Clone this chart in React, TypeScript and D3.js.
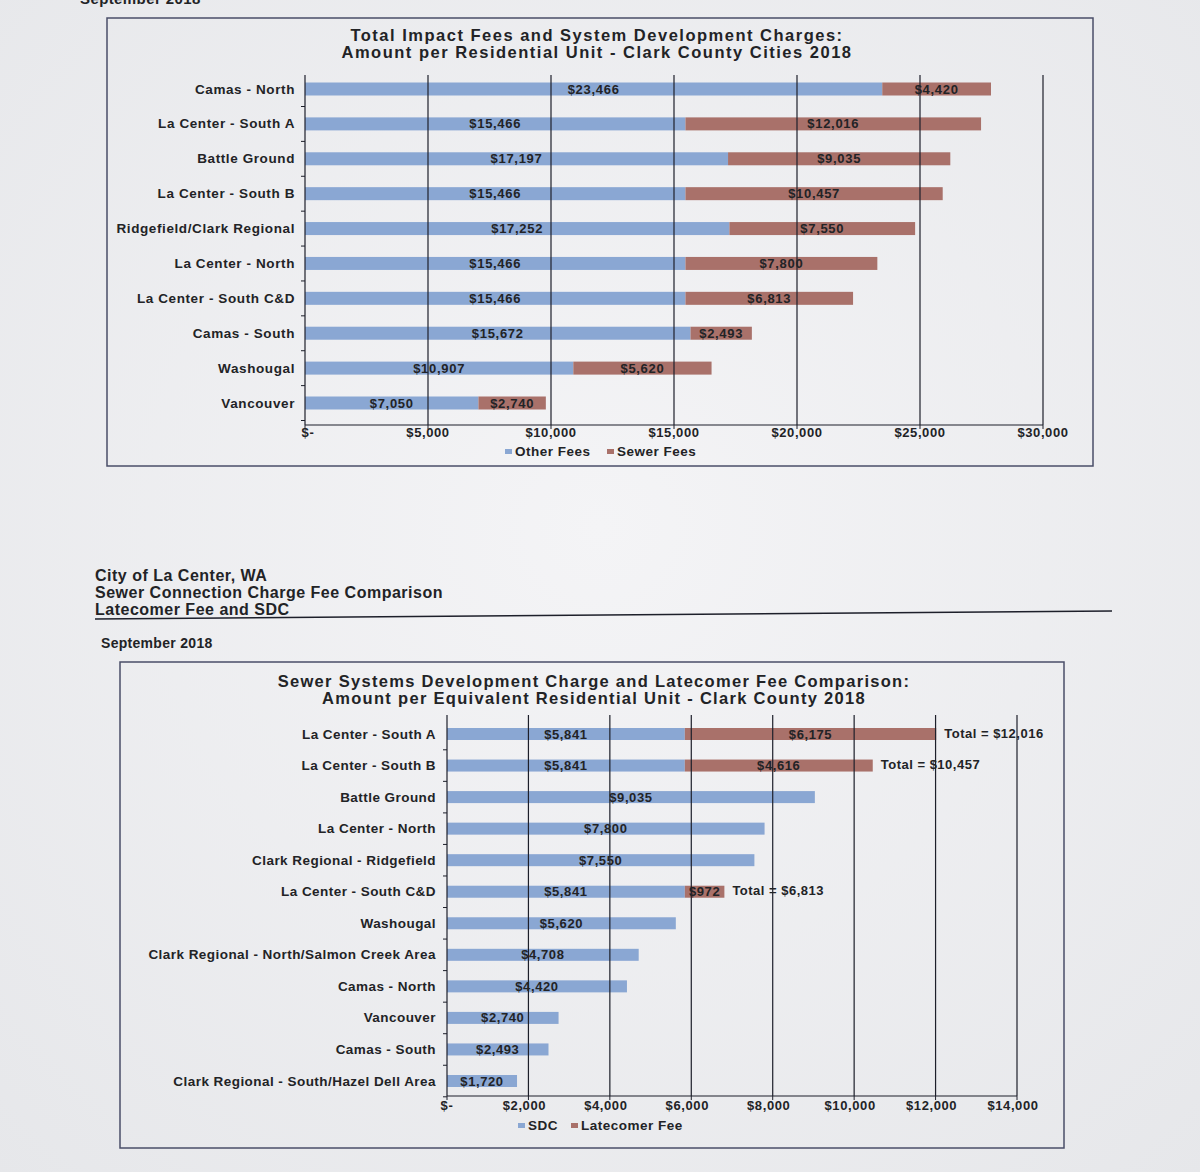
import React from "react";
import * as d3 from "d3";

document.body.style.margin = "0";

const topCategories = [
  "Camas - North",
  "La Center - South A",
  "Battle Ground",
  "La Center - South B",
  "Ridgefield/Clark Regional",
  "La Center - North",
  "La Center - South C&D",
  "Camas - South",
  "Washougal",
  "Vancouver",
];
const otherFees = [23466, 15466, 17197, 15466, 17252, 15466, 15466, 15672, 10907, 7050];
const sewerFees = [4420, 12016, 9035, 10457, 7550, 7800, 6813, 2493, 5620, 2740];
const topTicks = [0, 5000, 10000, 15000, 20000, 25000, 30000];

const bottomCategories = [
  "La Center - South A",
  "La Center - South B",
  "Battle Ground",
  "La Center - North",
  "Clark Regional - Ridgefield",
  "La Center - South C&D",
  "Washougal",
  "Clark Regional - North/Salmon Creek Area",
  "Camas - North",
  "Vancouver",
  "Camas - South",
  "Clark Regional - South/Hazel Dell Area",
];
const sdcFees = [5841, 5841, 9035, 7800, 7550, 5841, 5620, 4708, 4420, 2740, 2493, 1720];
const latecomerFees = [6175, 4616, 0, 0, 0, 972, 0, 0, 0, 0, 0, 0];
const bottomTicks = [0, 2000, 4000, 6000, 8000, 10000, 12000, 14000];

const BLUE = "#8aa7d3";
const RED = "#a9716a";
const INK = "#222326";
const LINE = "#1d1f2a";
const FONT = "'Liberation Sans', Arial, sans-serif";

const money = (v: number) => (v === 0 ? "$-" : "$" + d3.format(",")(v));

export default function App() {
  const xTop = d3.scaleLinear().domain([0, 30000]).range([305, 1043]);
  const yTop = d3.scalePoint<string>().domain(topCategories).range([89, 403]);
  const barHTop = 13;

  const xBot = d3.scaleLinear().domain([0, 14000]).range([447, 1017]);
  const yBot = d3.scalePoint<string>().domain(bottomCategories).range([734, 1081]);
  const barHBot = 12;

  return (
    <svg width={1200} height={1172} style={{ display: "block", fontFamily: FONT }}>
      <defs>
        <radialGradient id="bg" cx="50%" cy="45%" r="75%">
          <stop offset="0%" stopColor="#f4f4f6" />
          <stop offset="100%" stopColor="#e6e7ea" />
        </radialGradient>
      </defs>
      <rect x={0} y={0} width={1200} height={1172} fill="url(#bg)" />

      <text x={80} y={4} fontSize={15} fontWeight="bold" fill={INK} letterSpacing={0.4}>September 2018</text>

      {/* ===== TOP CHART ===== */}
      <rect x={107} y={18} width={986} height={448} fill="none" stroke="#4a4e68" strokeWidth={1.5} />
      <g fontSize={16.5} fontWeight="bold" fill={INK} textAnchor="middle" letterSpacing={1.5}>
        <text x={597} y={41}>Total Impact Fees and System Development Charges:</text>
        <text x={597} y={58}>Amount per Residential Unit - Clark County Cities 2018</text>
      </g>

      {topCategories.map((c, i) => {
        const y = (yTop(c) as number) - barHTop / 2;
        return (
          <g key={c}>
            <rect x={xTop(0)} y={y} width={xTop(otherFees[i]) - xTop(0)} height={barHTop} fill={BLUE} />
            <rect
              x={xTop(otherFees[i])}
              y={y}
              width={xTop(otherFees[i] + sewerFees[i]) - xTop(otherFees[i])}
              height={barHTop}
              fill={RED}
            />
          </g>
        );
      })}

      {topTicks.map((t) => (
        <line key={t} x1={xTop(t)} x2={xTop(t)} y1={75} y2={425} stroke={LINE} strokeWidth={1.2} />
      ))}
      <line x1={xTop(0)} x2={xTop(30000)} y1={425} y2={425} stroke={LINE} strokeWidth={1.2} />
      {topCategories.map((c) => (
        <line key={"tk" + c} x1={xTop(0) - 4} x2={xTop(0)} y1={(yTop(c) as number) + 17.5} y2={(yTop(c) as number) + 17.5} stroke={LINE} />
      ))}
      {topTicks.map((t) => (
        <line key={"xt" + t} x1={xTop(t)} x2={xTop(t)} y1={425} y2={429} stroke={LINE} />
      ))}

      {topCategories.map((c, i) => {
        const yc = (yTop(c) as number) + 4.5;
        return (
          <g key={"l" + c} fontSize={13} fontWeight="bold" fill={INK} textAnchor="middle" letterSpacing={0.7}>
            <text x={(xTop(0) + xTop(otherFees[i])) / 2} y={yc}>{money(otherFees[i])}</text>
            <text x={(xTop(otherFees[i]) + xTop(otherFees[i] + sewerFees[i])) / 2} y={yc}>{money(sewerFees[i])}</text>
          </g>
        );
      })}

      {topCategories.map((c) => (
        <text key={"c" + c} x={295} y={(yTop(c) as number) + 4.5} textAnchor="end" fontSize={13.5} fontWeight="bold" fill={INK} letterSpacing={0.6}>
          {c}
        </text>
      ))}

      {topTicks.map((t) => (
        <text key={"tl" + t} x={xTop(t) + (t === 0 ? 3 : 0)} y={437} textAnchor="middle" fontSize={13} fontWeight="bold" fill={INK} letterSpacing={0.6}>
          {money(t)}
        </text>
      ))}

      <g fontSize={13.5} fontWeight="bold" fill={INK} letterSpacing={0.5}>
        <rect x={505} y={449} width={7} height={5} fill={BLUE} />
        <text x={515} y={456}>Other Fees</text>
        <rect x={607} y={449} width={7} height={5} fill={RED} />
        <text x={617} y={456}>Sewer Fees</text>
      </g>

      {/* ===== BOTTOM HEADER ===== */}
      <g fontSize={16} fontWeight="bold" fill={INK} letterSpacing={0.5}>
        <text x={95} y={581}>City of La Center, WA</text>
        <text x={95} y={598}>Sewer Connection Charge Fee Comparison</text>
        <text x={95} y={615}>Latecomer Fee and SDC</text>
      </g>
      <line x1={95} x2={1112} y1={619} y2={611} stroke={LINE} strokeWidth={1.6} />
      <text x={101} y={648} fontSize={14} fontWeight="bold" fill={INK} letterSpacing={0.3}>September 2018</text>

      {/* ===== BOTTOM CHART ===== */}
      <rect x={120} y={662} width={944} height={486} fill="none" stroke="#4a4e68" strokeWidth={1.5} />
      <g fontSize={16.5} fontWeight="bold" fill={INK} textAnchor="middle" letterSpacing={1.3}>
        <text x={594} y={687}>Sewer Systems Development Charge and Latecomer Fee Comparison:</text>
        <text x={594} y={704}>Amount per Equivalent Residential Unit - Clark County 2018</text>
      </g>

      {bottomCategories.map((c, i) => {
        const y = (yBot(c) as number) - barHBot / 2;
        return (
          <g key={"b" + c}>
            <rect x={xBot(0)} y={y} width={xBot(sdcFees[i]) - xBot(0)} height={barHBot} fill={BLUE} />
            {latecomerFees[i] > 0 && (
              <rect
                x={xBot(sdcFees[i])}
                y={y}
                width={xBot(sdcFees[i] + latecomerFees[i]) - xBot(sdcFees[i])}
                height={barHBot}
                fill={RED}
              />
            )}
          </g>
        );
      })}

      {bottomTicks.map((t) => (
        <line key={"bg" + t} x1={xBot(t)} x2={xBot(t)} y1={715} y2={1096} stroke={LINE} strokeWidth={1.2} />
      ))}
      <line x1={xBot(0)} x2={xBot(14000)} y1={1096} y2={1096} stroke={LINE} strokeWidth={1.2} />
      {bottomCategories.map((c) => (
        <line key={"btk" + c} x1={xBot(0) - 4} x2={xBot(0)} y1={(yBot(c) as number) + 15.8} y2={(yBot(c) as number) + 15.8} stroke={LINE} />
      ))}
      {bottomTicks.map((t) => (
        <line key={"bxt" + t} x1={xBot(t)} x2={xBot(t)} y1={1096} y2={1100} stroke={LINE} />
      ))}

      {bottomCategories.map((c, i) => {
        const yc = (yBot(c) as number) + 4.5;
        const total = sdcFees[i] + latecomerFees[i];
        return (
          <g key={"bl" + c} fontSize={13} fontWeight="bold" fill={INK} letterSpacing={0.6}>
            <text x={(xBot(0) + xBot(sdcFees[i])) / 2} y={yc} textAnchor="middle">{money(sdcFees[i])}</text>
            {latecomerFees[i] > 0 && (
              <>
                <text x={(xBot(sdcFees[i]) + xBot(total)) / 2} y={yc} textAnchor="middle">{money(latecomerFees[i])}</text>
                <text x={xBot(total) + 8} y={yc - 1} letterSpacing={0.5}>Total = {money(total)}</text>
              </>
            )}
          </g>
        );
      })}

      {bottomCategories.map((c) => (
        <text key={"bc" + c} x={436} y={(yBot(c) as number) + 4.5} textAnchor="end" fontSize={13.5} fontWeight="bold" fill={INK} letterSpacing={0.45}>
          {c}
        </text>
      ))}

      {bottomTicks.map((t) => (
        <text key={"btl" + t} x={xBot(t) + (t === 0 ? 0 : -4)} y={1110} textAnchor="middle" fontSize={13} fontWeight="bold" fill={INK} letterSpacing={0.6}>
          {money(t)}
        </text>
      ))}

      <g fontSize={13.5} fontWeight="bold" fill={INK} letterSpacing={0.5}>
        <rect x={518} y={1123} width={7} height={5} fill={BLUE} />
        <text x={528} y={1130}>SDC</text>
        <rect x={571} y={1123} width={7} height={5} fill={RED} />
        <text x={581} y={1130}>Latecomer Fee</text>
      </g>
    </svg>
  );
}
